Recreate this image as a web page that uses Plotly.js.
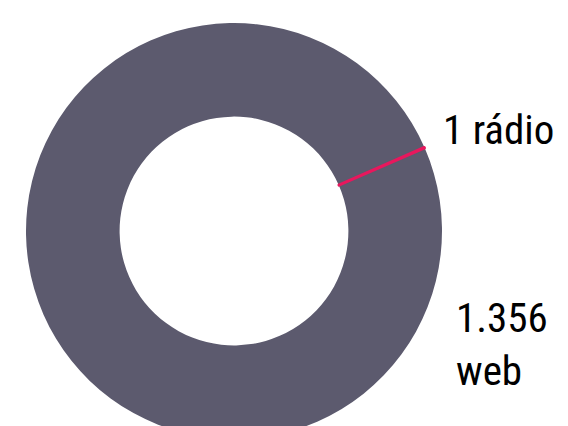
<!DOCTYPE html>
<html>
<head>
<meta charset="utf-8">
<script src="https://cdn.plot.ly/plotly-3.0.1.min.js"></script>
<style>
html,body{margin:0;padding:0;overflow:hidden;background:#fff;}
#chart{width:568px;height:439px;}
</style>
</head>
<body>
<div id="chart"></div>
<script>
const labels = ["web", "rádio"];
const values = [1356, 1];
const displayLabels = ["1 rádio", "1.356<br>web"];
const colors = ["#5c5a6e", "#e8175d"];

const trace = {
  type: "pie",
  labels: labels,
  values: values,
  sort: false,
  direction: "clockwise",
  rotation: 66.5,
  hole: 0.55,
  textinfo: "none",
  hoverinfo: "label+value",
  marker: {
    colors: colors,
    line: {color: ["#5c5a6e", "#e8175d"], width: [0, 2.5]}
  },
  domain: {x: [0, 1], y: [0, 1]},
  showlegend: false
};

const fontFam = "'Roboto Condensed', 'Liberation Sans Narrow', 'DejaVu Sans Condensed', Roboto, sans-serif";

const layout = {
  width: 568,
  height: 439,
  margin: {l: 26, r: 126, t: 23, b: 0, pad: 0},
  paper_bgcolor: "#ffffff",
  showlegend: false,
  annotations: [
    {text: displayLabels[0], xref: "paper", yref: "paper", x: 0.998, y: 0.743,
     xanchor: "left", yanchor: "middle", showarrow: false, align: "left",
     font: {family: fontFam, size: 41, color: "#000000"}},
    {text: displayLabels[1], xref: "paper", yref: "paper", x: 1.03, y: 0.226,
     xanchor: "left", yanchor: "middle", showarrow: false, align: "left",
     font: {family: fontFam, size: 41, color: "#000000"}}
  ]
};

Plotly.newPlot("chart", [trace], layout, {displayModeBar: false, staticPlot: true});
</script>
</body>
</html>
